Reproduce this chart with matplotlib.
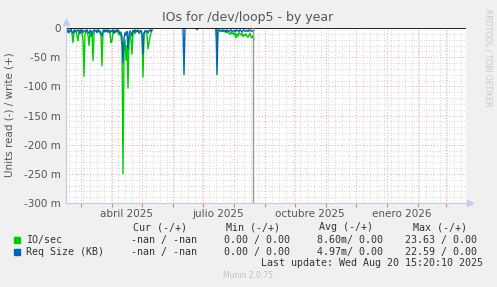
import numpy as np
import matplotlib.pyplot as plt
import matplotlib.dates as mdates
from matplotlib.patches import Rectangle
from datetime import date, timedelta

start = date(2025, 2, 14)
end = date(2026, 3, 21)
now = date(2025, 8, 20)

# read values, milli-units, one value per day
# first block: days 0..86 after start
io_a = [5, 3, 8, 4, 6, 3, 10, 25, 8, 4, 6, 12, 22, 6, 3, 5, 9, 20, 83,
        10, 5, 8, 12, 30, 8, 15, 6, 56, 10, 5, 4, 7, 3, 6, 9, 12, 65,
        8, 4, 6, 3, 5, 8, 4, 10, 25, 22, 6, 4, 8, 5, 3, 7, 12, 6, 15, 30,
        250, 40, 20, 55, 30, 103, 25, 10, 20, 45, 8, 5, 10, 4, 6, 3, 8, 5,
        7, 12, 84, 10, 5, 8, 12, 36, 25, 15, 8, 3]
req_a = [4, 6, 3, 8, 5, 2, 6, 9, 4, 3,
         7, 5, 3, 6, 10, 4, 3, 8, 5, 4,
         6, 3, 7, 9, 4, 5, 12, 6, 3, 5,
         4, 8, 3, 6, 5, 9, 14, 5, 3, 7,
         4, 6, 3, 5, 8, 4, 6, 3, 9, 5,
         4, 7, 3, 6, 10, 8, 15, 60, 18, 8,
         12, 6, 36, 10, 5, 8, 14, 4, 6, 3,
         7, 5, 4, 9, 6, 4, 10, 45, 8, 5,
         6, 4, 9, 5, 3, 6, 4]
# isolated req size spikes
spike_days = [117, 130]
spike_vals = [80, 3]
# last block: days 150..188
io_b = [0, 30, 3, 4, 5, 4, 5, 6, 4, 7,
        5, 8, 6, 9, 11, 7, 10, 8, 12, 9,
        17, 10, 14, 8, 10, 12, 9, 15, 11, 13,
        10, 14, 16, 12, 9, 15, 17, 13, 19]
req_b = [0, 80, 4, 3, 5, 4, 6, 3, 5, 4,
         7, 3, 5, 6, 4, 3, 6, 5, 4, 7,
         3, 5, 4, 6, 3, 5, 7, 4, 3, 6,
         5, 4, 6, 3, 5, 4, 6, 5, 4]

legend_rows = [("IO/sec", "-nan / -nan", "0.00 / 0.00", "8.60m/ 0.00", "23.63 / 0.00"),
               ("Req Size (KB)", "-nan / -nan", "0.00 / 0.00", "4.97m/ 0.00", "22.59 / 0.00")]
headers = ["Cur (-/+)", "Min (-/+)", "Avg (-/+)", "Max (-/+)"]
month_labels = [(date(2025, 4, 16), "abril 2025"), (date(2025, 7, 16), "julio 2025"),
                (date(2025, 10, 16), "octubre 2025"), (date(2026, 1, 16), "enero 2026")]

green = "#00CC00"
blue = "#0066B3"
W, H = 497, 287


def d(n):
    return start + timedelta(days=n)


def series(first, vals):
    return [d(first + i) for i in range(len(vals))], -np.array(vals, dtype=float)


fig = plt.figure(figsize=(W / 100, H / 100), dpi=100, facecolor="#F0F0F0")
ax = fig.add_axes([66 / W, 1 - 203 / H, 400 / W, 175 / H])
ax.set_facecolor("white")

ax.set_xlim(start, end)
ax.set_ylim(-300, 0)

ax.xaxis.set_major_locator(mdates.MonthLocator())
ax.xaxis.set_minor_locator(mdates.WeekdayLocator(byweekday=mdates.MO))
ax.xaxis.set_major_formatter(plt.NullFormatter())
ax.set_yticks(np.arange(-300, 1, 50))
ax.set_yticks(np.arange(-300, 1, 10), minor=True)
ax.yaxis.set_major_formatter(lambda v, _: "0" if v == 0 else "%d m" % v)

ax.grid(which="minor", color="#CCCCCC", ls=(0, (1, 2)), lw=0.6)
ax.grid(which="major", color="#E8A8A8", ls=(0, (1, 2)), lw=0.7)
ax.set_axisbelow(True)
ax.tick_params(which="both", length=0, labelsize=7.5, labelcolor="#555555", pad=4)
ax.tick_params(axis="x", which="major", length=3, color="#E08080", direction="out")
for s in ["top", "right"]:
    ax.spines[s].set_visible(False)
for s in ["left", "bottom"]:
    ax.spines[s].set_color("#C8C8E8")
    ax.spines[s].set_linewidth(0.8)

for dt, lab in month_labels:
    ax.text(dt, -0.035, lab, transform=ax.get_xaxis_transform(), ha="center", va="top",
            fontsize=7.5, color="#555555")

# IO/sec
x, y = series(0, io_a)
ax.plot(x, y, color=green, lw=1.0)
x, y = series(150, io_b)
ax.plot(x, y, color=green, lw=1.0)
# Req size
x, y = series(0, req_a)
ax.plot(x, y, color=blue, lw=1.0)
for sd, sv in zip(spike_days, spike_vals):
    x, y = series(sd, [0, sv, 0])
    ax.plot(x, y, color=blue, lw=1.0)
x, y = series(150, req_b)
ax.plot(x, y, color=blue, lw=1.0)

ax.axhline(0, color="black", lw=1.2)
ax.axvline(now, color="#999999", lw=1.0)

# axis arrows
ax.plot([0], [1.035], marker="^", ms=4, color="#C8C8F0", clip_on=False,
        transform=ax.transAxes)
ax.plot([1.01], [0], marker=">", ms=4, color="#C8C8F0", clip_on=False,
        transform=ax.transAxes)

fig.text(248 / W, 1 - 18 / H, "IOs for /dev/loop5 - by year", ha="center", va="center",
         fontsize=9, color="#555555")
fig.text(10 / W, 1 - 115 / H, "Units read (-) / write (+)", rotation=90, ha="center",
         va="center", fontsize=7.5, color="#555555")
fig.text(488 / W, 1 - 58 / H, "RRDTOOL / TOBI OETIKER", rotation=270, ha="center",
         va="center", fontsize=5.5, color="#C8C8C8")

mono = dict(family="DejaVu Sans Mono", fontsize=7.2, color="#333333", va="center")
col_right = [197, 290, 383, 477]
for cx, h in zip(col_right, headers):
    fig.text((cx - 10) / W, 1 - 227 / H, h, ha="right", **mono)
for row, yy, c in zip(legend_rows, [240, 252], [green, blue]):
    fig.patches.append(Rectangle((14 / W, 1 - (yy + 3) / H), 6 / W, 6 / H,
                                 transform=fig.transFigure, color=c))
    fig.text(26 / W, 1 - yy / H, row[0], ha="left", **mono)
    for cx, v in zip(col_right, row[1:]):
        fig.text(cx / W, 1 - yy / H, v, ha="right", **mono)
fig.text(483 / W, 1 - 263 / H, "Last update: Wed Aug 20 15:20:10 2025", ha="right", **mono)
fig.text(248 / W, 1 - 276 / H, "Munin 2.0.75", ha="center", va="center", fontsize=5.5,
         color="#C0C0C0")

fig.savefig("out.png", dpi=100, facecolor=fig.get_facecolor())
